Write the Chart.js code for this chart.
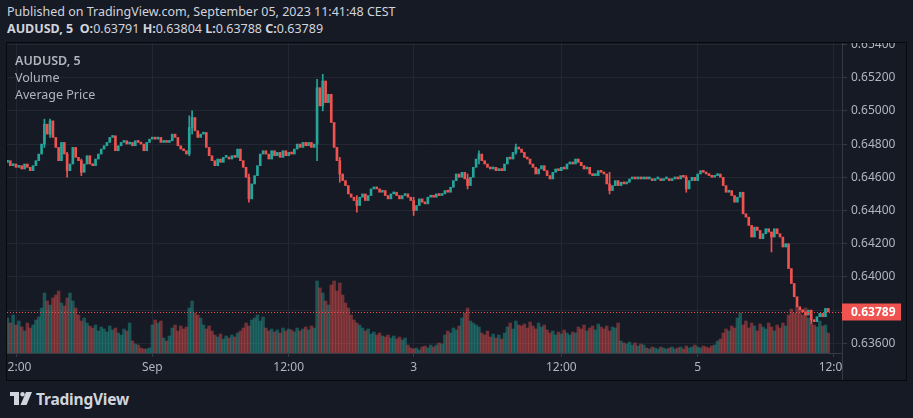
<!DOCTYPE html>
<html>
<head>
<meta charset="utf-8">
<script src="https://cdn.jsdelivr.net/npm/chart.js@4.4.0/dist/chart.umd.min.js"></script>
<style>
    html, body { margin: 0; padding: 0; width: 913px; height: 418px; overflow: hidden; background: #161a25; font-family: "Noto Sans", sans-serif; color: #d1d4dc; }
    #hdr1 { position: absolute; left: 7px; top: 3px; font-size: 12.5px; white-space: nowrap; }
    #hdr2 { position: absolute; left: 7px; top: 20px; font-size: 12.5px; white-space: nowrap; }
    #hdr2 b { font-weight: 700; }
    #frame { position: absolute; left: 6px; top: 42px; width: 899px; height: 337px; border: 1px solid #07090d; }
    #legend { position: absolute; left: 15px; top: 52px; font-size: 12.5px; color: #b2b5be; line-height: 17px; z-index: 2; }
    #legend .sym { font-weight: 600; }
    #brand { position: absolute; left: 10px; top: 390px; height: 18px; display: flex; align-items: center; }
    #brand span { margin-left: 4px; font-size: 15.5px; font-weight: 700; color: #d1d4dc; letter-spacing: -0.2px; }
</style>
</head>
<body>
<div id="hdr1">Published on TradingView.com, September 05, 2023 11:41:48 CEST</div>
<div id="hdr2"><b>AUDUSD, 5</b> &nbsp;<b>O:</b>0.63791 <b>H:</b>0.63804 <b>L:</b>0.63788 <b>C:</b>0.63789</div>
<div id="frame"><canvas id="priceChart"></canvas></div>
<div id="legend"><div class="sym">AUDUSD, 5</div><div>Volume</div><div>Average Price</div></div>
<div id="brand">
    <svg width="22" height="14" viewBox="0 0 22 14"><rect x="0" y="0" width="9" height="4" fill="#d1d4dc"/><rect x="4" y="0" width="5" height="13" fill="#d1d4dc"/><circle cx="12.5" cy="2.2" r="2.2" fill="#d1d4dc"/><polygon points="16,0 22,0 16.5,13 10.5,13" fill="#d1d4dc"/></svg>
    <span>TradingView</span>
</div>
<script>
// AUDUSD 5分K，這裡以 15 分鐘為一根整理（索引 0 = 8/31 11:15 CEST）
const firstOpen = 0.6469;
const closes = [
    0.6470, 0.6467, 0.6468, 0.6466, 0.6467, 0.6465, 0.6468, 0.6466, 0.6464, 0.6467,
    0.6470, 0.6474, 0.6480, 0.6492, 0.6486, 0.6494, 0.6484, 0.6478, 0.6470, 0.6481,
    0.6474, 0.6464, 0.6468, 0.6478, 0.6472, 0.6470, 0.6463, 0.6468, 0.6473, 0.6468,
    0.6467, 0.6471, 0.6474, 0.6477, 0.6479, 0.6481, 0.6484, 0.6485, 0.6476, 0.6479,
    0.6481, 0.6482, 0.6480, 0.6481, 0.6479, 0.6482, 0.6481, 0.6480, 0.6476, 0.6481,
    0.6483, 0.6484, 0.6483, 0.6484, 0.6481, 0.6482, 0.6481, 0.6482, 0.6486, 0.6484,
    0.6479, 0.6477, 0.6476, 0.6474, 0.6490, 0.6496, 0.6488, 0.6484, 0.6486, 0.6487,
    0.6478, 0.6473, 0.6470, 0.6467, 0.6471, 0.6469, 0.6472, 0.6472, 0.6471, 0.6473,
    0.6472, 0.6477, 0.6470, 0.6466, 0.6460, 0.6447, 0.6456, 0.6461, 0.6467, 0.6474,
    0.6476, 0.6474, 0.6471, 0.6476, 0.6473, 0.6475, 0.6472, 0.6476, 0.6473, 0.6475,
    0.6474, 0.6477, 0.6480, 0.6478, 0.6481, 0.6479, 0.6481, 0.6478, 0.6480, 0.6514,
    0.6503, 0.6518, 0.6505, 0.6510, 0.6493, 0.6478, 0.6470, 0.6462, 0.6458, 0.6455,
    0.6450, 0.6448, 0.6446, 0.6443, 0.6448, 0.6450, 0.6446, 0.6449, 0.6453, 0.6454,
    0.6453, 0.6451, 0.6452, 0.6449, 0.6447, 0.6450, 0.6451, 0.6449, 0.6447, 0.6449,
    0.6450, 0.6448, 0.6446, 0.6440, 0.6443, 0.6447, 0.6445, 0.6444, 0.6448, 0.6449,
    0.6448, 0.6450, 0.6449, 0.6450, 0.6452, 0.6451, 0.6454, 0.6458, 0.6462, 0.6460,
    0.6463, 0.6459, 0.6455, 0.6460, 0.6466, 0.6471, 0.6474, 0.6470, 0.6468, 0.6466,
    0.6465, 0.6466, 0.6464, 0.6465, 0.6464, 0.6468, 0.6472, 0.6471, 0.6475, 0.6478,
    0.6477, 0.6475, 0.6472, 0.6471, 0.6468, 0.6466, 0.6462, 0.6465, 0.6467, 0.6464,
    0.6461, 0.6459, 0.6463, 0.6465, 0.6464, 0.6466, 0.6465, 0.6468, 0.6469, 0.6468,
    0.6471, 0.6469, 0.6467, 0.6465, 0.6466, 0.6462, 0.6461, 0.6461, 0.6464, 0.6463,
    0.6462, 0.6456, 0.6452, 0.6455, 0.6458, 0.6455, 0.6457, 0.6456, 0.6457, 0.6459,
    0.6460, 0.6459, 0.6460, 0.6459, 0.6460, 0.6459, 0.6459, 0.6458, 0.6459, 0.6459,
    0.6458, 0.6459, 0.6459, 0.6458, 0.6459, 0.6460, 0.6459, 0.6461, 0.6460, 0.6453,
    0.6458, 0.6460, 0.6458, 0.6462, 0.6464, 0.6463, 0.6462, 0.6461, 0.6460, 0.6461,
    0.6462, 0.6460, 0.6455, 0.6451, 0.6452, 0.6449, 0.6445, 0.6448, 0.6451, 0.6438,
    0.6436, 0.6431, 0.6424, 0.6430, 0.6428, 0.6423, 0.6426, 0.6429, 0.6427, 0.6424,
    0.6429, 0.6426, 0.6424, 0.6418, 0.6420, 0.6405, 0.6396, 0.6388, 0.6382, 0.6380,
    0.6379, 0.6377, 0.6380, 0.6374, 0.6373, 0.6376, 0.6378, 0.6376, 0.6381, 0.63789
];
// 成交量（相對值）
const volumes = [
    35, 30, 38, 28, 32, 26, 22, 30, 25, 28,
    33, 36, 45, 60, 52, 48, 55, 58, 62, 50,
    47, 55, 60, 52, 45, 38, 32, 35, 30, 27,
    25, 28, 22, 26, 24, 21, 27, 23, 25, 20,
    18, 24, 22, 30, 12, 9, 8, 5, 4, 4,
    5, 28, 33, 30, 32, 15, 12, 17, 25, 28,
    22, 27, 24, 26, 45, 52, 40, 38, 35, 28,
    24, 27, 22, 18, 16, 19, 14, 17, 15, 18,
    16, 20, 22, 25, 30, 27, 33, 35, 38, 32,
    36, 25, 22, 24, 21, 23, 20, 25, 22, 24,
    23, 21, 25, 22, 24, 26, 23, 27, 25, 72,
    65, 60, 52, 48, 68, 72, 62, 70, 58, 50,
    45, 38, 33, 30, 28, 25, 22, 24, 19, 21,
    18, 20, 17, 16, 18, 15, 17, 14, 16, 13,
    15, 8, 5, 4, 5, 3, 6, 7, 5, 8,
    6, 8, 10, 9, 18, 22, 20, 25, 23, 27,
    35, 40, 45, 32, 30, 28, 26, 20, 18, 22,
    16, 19, 15, 18, 14, 20, 26, 30, 24, 32,
    28, 27, 29, 25, 31, 27, 24, 30, 26, 28,
    23, 20, 22, 18, 21, 19, 23, 20, 18, 21,
    20, 26, 24, 28, 22, 25, 27, 23, 29, 26,
    24, 27, 22, 26, 25, 30, 12, 10, 9, 11,
    8, 10, 7, 9, 8, 5, 4, 6, 5, 4,
    6, 5, 4, 5, 6, 4, 5, 6, 4, 7,
    5, 6, 8, 6, 5, 7, 6, 5, 7, 8,
    12, 14, 20, 24, 22, 27, 25, 35, 40, 28,
    32, 25, 30, 27, 22, 29, 26, 24, 30, 26,
    22, 28, 25, 30, 27, 38, 44, 40, 46, 42,
    38, 45, 35, 30, 28, 26, 32, 27, 28, 20
];
// 較明顯的影線（索引、最低、最高）
const wickIdx  = [13, 15, 21, 26, 64, 65, 85, 109, 111, 117, 123, 143, 162, 166, 179, 212, 239, 269, 283];
const wickLow  = [0.6478, 0.6484, 0.6460, 0.6461, 0.6473, 0.6486, 0.6445, 0.6470, 0.6500, 0.6457, 0.6439, 0.6437, 0.6453, 0.6468, 0.6474, 0.6450, 0.6451, 0.6415, 0.6372];
const wickHigh = [0.6495, 0.6495, 0.6475, 0.6471, 0.6497, 0.6500, 0.6462, 0.6519, 0.6522, 0.6472, 0.6449, 0.6448, 0.6462, 0.6476, 0.6480, 0.6463, 0.6461, 0.6427, 0.6377];
// 時間軸標籤
const tickIdx = [3, 51, 99, 143, 195, 243, 291];
const tickLabels = ['12:00', 'Sep', '12:00', '3', '12:00', '5', '12:00'];
const priceTicksStep = 0.002;

const upColor = '#26a69a';
const downColor = '#ef5350';
const bgColor = '#161a25';
const gridColor = '#232733';
const axisColor = '#363a45';
const textColor = '#b2b5be';

const opens = closes.map((c, i) => i === 0 ? firstOpen : closes[i - 1]);
const isUp = closes.map((c, i) => c >= opens[i]);
const lastClose = closes[closes.length - 1];

// 最新價格線與標籤
const priceLinePlugin = {
    id: 'priceLine',
    afterDraw(chart) {
        const { ctx, chartArea, scales } = chart;
        const y = Math.round(scales.y.getPixelForValue(lastClose)) + 0.5;
        ctx.save();
        ctx.strokeStyle = downColor;
        ctx.lineWidth = 1;
        ctx.setLineDash([1, 2]);
        ctx.beginPath();
        ctx.moveTo(chartArea.left, y);
        ctx.lineTo(chartArea.right, y);
        ctx.stroke();
        ctx.setLineDash([]);
        // 右下角蓋掉超出的時間標籤
        ctx.fillStyle = bgColor;
        ctx.fillRect(chartArea.right + 1, chartArea.bottom + 1, chart.width - chartArea.right, chart.height - chartArea.bottom);
        ctx.strokeStyle = axisColor;
        ctx.beginPath();
        ctx.moveTo(chartArea.right + 0.5, chartArea.bottom);
        ctx.lineTo(chartArea.right + 0.5, chart.height);
        ctx.stroke();
        // 價格標籤
        ctx.fillStyle = downColor;
        ctx.fillRect(chartArea.right, y - 9, 59, 17);
        ctx.fillStyle = '#ffffff';
        ctx.font = 'bold 12px "Noto Sans"';
        ctx.textBaseline = 'middle';
        ctx.fillText(lastClose.toFixed(5), chartArea.right + 9, y);
        ctx.restore();
    }
};

const ctx = document.getElementById('priceChart').getContext('2d');
new Chart(ctx, {
    type: 'bar',
    data: {
        datasets: [
            {
                label: 'wick',
                data: wickIdx.map((v, k) => ({ x: v, y: [wickLow[k], wickHigh[k]] })),
                backgroundColor: wickIdx.map(v => isUp[v] ? upColor : downColor),
                barThickness: 1,
                grouped: false,
                yAxisID: 'y',
                order: 2
            },
            {
                label: 'AUDUSD',
                data: closes.map((c, i) => ({ x: i, y: [opens[i], c] })),
                backgroundColor: isUp.map(u => u ? upColor : downColor),
                barThickness: 2,
                minBarLength: 2,
                grouped: false,
                yAxisID: 'y',
                order: 1
            },
            {
                label: 'Volume',
                data: volumes.map((v, i) => ({ x: i, y: v })),
                backgroundColor: isUp.map(u => u ? 'rgba(38,166,154,0.42)' : 'rgba(239,83,80,0.42)'),
                barPercentage: 1,
                categoryPercentage: 1,
                grouped: false,
                yAxisID: 'yv',
                order: 3
            }
        ]
    },
    options: {
        responsive: true,
        maintainAspectRatio: false,
        animation: false,
        layout: { padding: 0 },
        plugins: { legend: { display: false }, tooltip: { enabled: false } },
        scales: {
            x: {
                type: 'linear',
                offset: false,
                min: -0.176,
                max: 293.83,
                afterBuildTicks(scale) {
                    scale.ticks = tickIdx.map(v => ({ value: v }));
                },
                afterFit(scale) {
                    scale.height = 27;
                    scale.paddingLeft = 0;
                    scale.paddingRight = 0;
                },
                ticks: {
                    autoSkip: false,
                    maxRotation: 0,
                    minRotation: 0,
                    padding: 3,
                    color: textColor,
                    font: { family: 'Noto Sans', size: 12 },
                    callback: (v, i) => tickLabels[i]
                },
                grid: { color: gridColor, tickColor: axisColor, tickLength: 4, offset: false },
                border: { display: true, color: axisColor }
            },
            y: {
                position: 'right',
                min: 0.635415,
                max: 0.65409,
                afterFit(scale) {
                    scale.width = 64;
                    scale.paddingTop = 0;
                    scale.paddingBottom = 0;
                },
                ticks: {
                    stepSize: priceTicksStep,
                    includeBounds: false,
                    padding: 4,
                    color: textColor,
                    font: { family: 'Noto Sans', size: 12 },
                    callback: v => v.toFixed(5)
                },
                grid: { color: gridColor, tickColor: axisColor, tickLength: 5 },
                border: { display: true, color: axisColor }
            },
            yv: {
                display: false,
                min: 0,
                max: 310
            }
        }
    },
    plugins: [priceLinePlugin]
});
</script>
</body>
</html>
